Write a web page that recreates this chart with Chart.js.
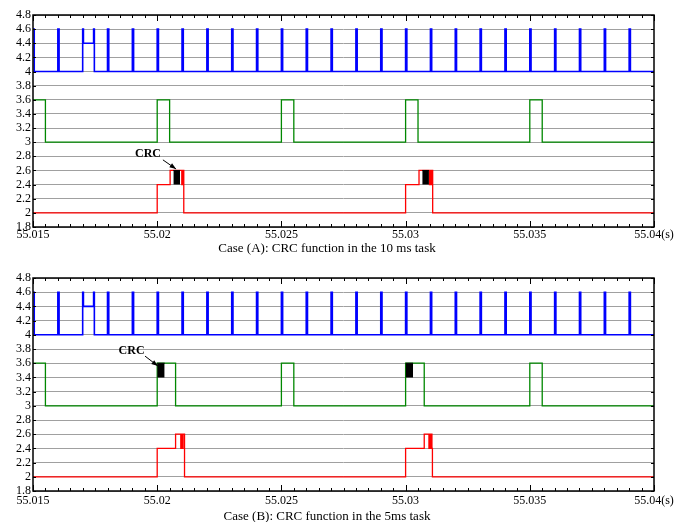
<!DOCTYPE html>
<html>
<head>
<meta charset="utf-8">
<script src="https://cdn.jsdelivr.net/npm/chart.js@4.4.1/dist/chart.umd.min.js"></script>
<style>
html, body { margin: 0; padding: 0; background: #fff; overflow: hidden; }
canvas { position: absolute; left: 0; }
#chartA { top: 0; }
#chartB { top: 262px; }
</style>
</head>
<body>
<canvas id="chartA" width="687" height="262"></canvas>
<canvas id="chartB" width="687" height="262"></canvas>
<script>
// axis ticks
const xTicks = [55.015, 55.02, 55.025, 55.03, 55.035, 55.04];
const yTicks = [1.8, 2, 2.2, 2.4, 2.6, 2.8, 3, 3.2, 3.4, 3.6, 3.8, 4, 4.2, 4.4, 4.6, 4.8];

// blue signal (same in both cases): [time, level] edges
const blueEdges = [
  [55.015, 4.6], [55.01505, 4],
  [55.016, 4.6], [55.01605, 4],
  [55.017, 4.6], [55.01703, 4.4], [55.01744, 4.6], [55.01747, 4],
  [55.018, 4.6], [55.01805, 4],
  [55.019, 4.6], [55.01905, 4],
  [55.020, 4.6], [55.02005, 4],
  [55.021, 4.6], [55.02105, 4],
  [55.022, 4.6], [55.02205, 4],
  [55.023, 4.6], [55.02305, 4],
  [55.024, 4.6], [55.02405, 4],
  [55.025, 4.6], [55.02505, 4],
  [55.026, 4.6], [55.02605, 4],
  [55.027, 4.6], [55.02705, 4],
  [55.028, 4.6], [55.02805, 4],
  [55.029, 4.6], [55.02905, 4],
  [55.030, 4.6], [55.03005, 4],
  [55.031, 4.6], [55.03105, 4],
  [55.032, 4.6], [55.03205, 4],
  [55.033, 4.6], [55.03305, 4],
  [55.034, 4.6], [55.03405, 4],
  [55.035, 4.6], [55.03505, 4],
  [55.036, 4.6], [55.03605, 4],
  [55.037, 4.6], [55.03705, 4],
  [55.038, 4.6], [55.03805, 4],
  [55.039, 4.6], [55.03905, 4],
  [55.04, 4]
];

// green signal
const greenEdgesA = [
  [55.015, 3.6], [55.0155, 3], [55.02, 3.6], [55.0205, 3], [55.025, 3.6], [55.0255, 3],
  [55.03, 3.6], [55.0305, 3], [55.035, 3.6], [55.0355, 3], [55.04, 3]
];
const greenEdgesB = [
  [55.015, 3.6], [55.0155, 3], [55.02, 3.6], [55.02074, 3], [55.025, 3.6], [55.0255, 3],
  [55.03, 3.6], [55.03075, 3], [55.035, 3.6], [55.0355, 3], [55.04, 3]
];

// red signal
const redEdgesA = [
  [55.015, 2], [55.02, 2.4], [55.02052, 2.6], [55.02099, 2.4], [55.02102, 2.6], [55.02107, 2],
  [55.03, 2.4], [55.03054, 2.6], [55.03096, 2.4], [55.03099, 2.6], [55.03102, 2.4], [55.03105, 2.6], [55.03109, 2],
  [55.04, 2]
];
const redEdgesB = [
  [55.015, 2], [55.02, 2.4], [55.02074, 2.6], [55.02095, 2.4], [55.02097, 2.6], [55.02102, 2.4], [55.02104, 2.6], [55.0211, 2],
  [55.03, 2.4], [55.03075, 2.6], [55.03094, 2.4], [55.03097, 2.6], [55.031, 2.4], [55.03103, 2.6], [55.03106, 2.4], [55.03108, 2],
  [55.04, 2]
];

// CRC blocks: [start, end, low, high]
const crcBlocksA = [[55.02065, 55.02092, 2.4, 2.6], [55.03067, 55.03094, 2.4, 2.6]];
const crcBlocksB = [[55.02, 55.0203, 3.4, 3.6], [55.03, 55.0303, 3.4, 3.6]];

// CRC label + arrow, in data units: [textX, textY, fromX, fromY, toX, toY]
const crcNoteA = [55.01963, 2.833, 55.02023, 2.75, 55.02076, 2.62];
const crcNoteB = [55.01897, 3.78, 55.01951, 3.70, 55.02003, 3.56];

const captionA = 'Case (A): CRC function in the 10 ms task';
const captionB = 'Case (B): CRC function in the 5ms task';

const serif = "'Liberation Serif', 'Times New Roman', serif";

const toPoints = edges => edges.map(e => ({ x: e[0], y: e[1] }));

// frame with inward ticks on all four sides
const framePlugin = {
  id: 'frame',
  afterDatasetsDraw(chart) {
    const { ctx, chartArea: a, scales: { x, y } } = chart;
    ctx.save();
    ctx.strokeStyle = '#000';
    ctx.lineWidth = 1;
    ctx.beginPath();
    for (let i = 0; i <= 50; i++) {
      const px = Math.round(x.getPixelForValue(55.015 + i * 0.0005)) + 0.5;
      const len = i % 10 === 0 ? 6 : 3;
      ctx.moveTo(px, a.bottom); ctx.lineTo(px, a.bottom - len);
      ctx.moveTo(px, a.top); ctx.lineTo(px, a.top + len);
    }
    yTicks.forEach(v => {
      const py = Math.round(y.getPixelForValue(v)) + 0.5;
      ctx.moveTo(a.left, py); ctx.lineTo(a.left + 3, py);
      ctx.moveTo(a.right, py); ctx.lineTo(a.right - 3, py);
    });
    ctx.stroke();
    ctx.lineWidth = 1.5;
    ctx.strokeRect(a.left, a.top, a.right - a.left, a.bottom - a.top);
    ctx.restore();
  }
};

// CRC annotation
const notePlugin = {
  id: 'crcNote',
  afterDraw(chart, args, opts) {
    const n = opts.note;
    if (!n) return;
    const { ctx, scales: { x, y } } = chart;
    const tx = x.getPixelForValue(n[0]), ty = y.getPixelForValue(n[1]);
    const fx = x.getPixelForValue(n[2]), fy = y.getPixelForValue(n[3]);
    const ex = x.getPixelForValue(n[4]), ey = y.getPixelForValue(n[5]);
    ctx.save();
    ctx.fillStyle = '#000';
    ctx.strokeStyle = '#000';
    ctx.font = 'bold 12px ' + serif;
    ctx.textAlign = 'center';
    ctx.textBaseline = 'middle';
    ctx.fillText('CRC', tx, ty);
    ctx.lineWidth = 1;
    ctx.beginPath();
    ctx.moveTo(fx, fy); ctx.lineTo(ex, ey);
    ctx.stroke();
    const ang = Math.atan2(ey - fy, ex - fx);
    ctx.beginPath();
    ctx.moveTo(ex, ey);
    ctx.lineTo(ex - 7 * Math.cos(ang - 0.35), ey - 7 * Math.sin(ang - 0.35));
    ctx.lineTo(ex - 7 * Math.cos(ang + 0.35), ey - 7 * Math.sin(ang + 0.35));
    ctx.closePath();
    ctx.fill();
    ctx.restore();
  }
};

function makeChart(id, green, red, blocks, note, caption, padTop, padBottom, labelPad) {
  const datasets = [];
  blocks.forEach(b => {
    datasets.push({
      data: [{ x: b[0], y: b[3] }, { x: b[1], y: b[3] }],
      borderColor: '#000', backgroundColor: '#000', borderWidth: 1,
      fill: { value: b[2] }, pointRadius: 0
    });
  });
  datasets.push(
    { data: toPoints(blueEdges), borderColor: '#0000ff', borderWidth: 1.6, stepped: true, pointRadius: 0, fill: false },
    { data: toPoints(green), borderColor: '#008800', borderWidth: 1.3, stepped: true, pointRadius: 0, fill: false },
    { data: toPoints(red), borderColor: '#ff0000', borderWidth: 1.3, stepped: true, pointRadius: 0, fill: false }
  );

  return new Chart(document.getElementById(id).getContext('2d'), {
    type: 'line',
    data: { datasets },
    plugins: [framePlugin, notePlugin],
    options: {
      responsive: false,
      animation: false,
      layout: { padding: { top: padTop, right: 33, bottom: padBottom, left: 0 } },
      plugins: {
        legend: { display: false },
        tooltip: { enabled: false },
        crcNote: { note },
        title: {
          display: true, position: 'bottom', text: caption, color: '#000',
          padding: { top: -3, bottom: 0 },
          font: { family: serif, size: 13, weight: 'normal' }
        }
      },
      scales: {
        x: {
          type: 'linear', min: 55.015, max: 55.04,
          afterBuildTicks: s => { s.ticks = xTicks.map(v => ({ value: v })); },
          grid: { display: false, drawTicks: false },
          border: { display: false },
          ticks: {
            padding: labelPad, color: '#000', maxRotation: 0, autoSkip: false,
            font: { family: serif, size: 12 },
            callback: v => v === 55.04 ? '55.04(s)' : String(v)
          }
        },
        y: {
          min: 1.8, max: 4.8,
          afterBuildTicks: s => { s.ticks = yTicks.map(v => ({ value: v })); },
          afterFit: s => { s.width = 33; },
          grid: { color: '#a0a0a0', lineWidth: 1, drawTicks: false },
          border: { display: false },
          ticks: {
            padding: 2, color: '#000', autoSkip: false,
            font: { family: serif, size: 12 },
            callback: v => String(v)
          }
        }
      }
    }
  });
}

makeChart('chartA', greenEdgesA, redEdgesA, crcBlocksA, crcNoteA, captionA, 15, 6, 1);
makeChart('chartB', greenEdgesB, redEdgesB, crcBlocksB, crcNoteB, captionB, 16, 0, 3);
</script>
</body>
</html>
